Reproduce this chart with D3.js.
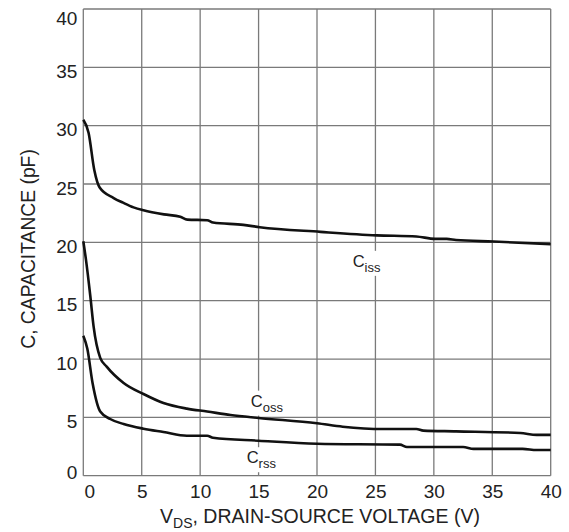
<!DOCTYPE html>
<html>
<head>
<meta charset="utf-8">
<script src="https://cdn.jsdelivr.net/npm/d3@7"></script>
<style>
  body { margin: 0; background: #fff; }
  text { font-family: "Liberation Sans", Arial, sans-serif; fill: #222; }
</style>
</head>
<body>
<svg id="chart" width="569" height="532"></svg>
<script>
// values
const xTicks = [0, 5, 10, 15, 20, 25, 30, 35, 40];
const yTicks = [0, 5, 10, 15, 20, 25, 30, 35, 40];

const vdsIss = [0, 0.45, 0.94, 1.4, 2.6, 3.4, 4.3, 5.15, 6.9, 8.3, 8.9, 10.6, 11.1, 13.7, 15.1, 20.3, 25.1, 28.5, 30.1, 31.1, 31.9, 35.1, 40];
const cIss   = [30.5, 29.4, 26.2, 24.7, 23.8, 23.4, 23.0, 22.75, 22.4, 22.2, 21.95, 21.9, 21.7, 21.5, 21.3, 20.9, 20.6, 20.5, 20.3, 20.3, 20.2, 20.07, 19.85];

const vdsOss = [0, 0.23, 0.6, 0.88, 1.45, 2.0, 3.45, 5.15, 6.86, 8.86, 10.6, 12.6, 15.0, 20, 22.2, 25.7, 28.5, 29.1, 31.9, 37.4, 38.8, 40];
const cOss   = [20.1, 18.5, 15.4, 12.8, 10.1, 9.35, 7.95, 7.0, 6.23, 5.75, 5.5, 5.2, 4.95, 4.5, 4.2, 4.0, 4.0, 3.86, 3.8, 3.66, 3.5, 3.5];

const vdsRss = [0, 0.34, 0.8, 1.45, 2.3, 3.45, 5.15, 6.86, 8.86, 10.6, 11.1, 15, 20, 27.1, 27.7, 32.5, 33.4, 37.6, 38.8, 40];
const cRss   = [12.0, 10.9, 7.9, 5.5, 4.86, 4.43, 4.03, 3.75, 3.43, 3.43, 3.25, 3.0, 2.74, 2.66, 2.46, 2.46, 2.3, 2.3, 2.2, 2.2];

const seriesNames = ["iss", "oss", "rss"];

const svg = d3.select("#chart");
const W = 569, H = 532;
const margin = {top: 9, right: 18.3, bottom: 56.3, left: 83.3};
const w = W - margin.left - margin.right,
      h = H - margin.top - margin.bottom;

const x = d3.scaleLinear().domain([0, 40]).range([0, w]);
const y = d3.scaleLinear().domain([0, 40]).range([h, 0]);

const g = svg.append("g").attr("transform", "translate(" + margin.left + "," + margin.top + ")");

// grid
const gridColor = "#7a7a7a";
g.append("g").selectAll("line.v").data(xTicks).join("line")
  .attr("x1", d => x(d)).attr("x2", d => x(d))
  .attr("y1", 0).attr("y2", h)
  .attr("stroke", gridColor).attr("stroke-width", 1.3);
g.append("g").selectAll("line.h").data(yTicks).join("line")
  .attr("y1", d => y(d)).attr("y2", d => y(d))
  .attr("x1", 0).attr("x2", w)
  .attr("stroke", gridColor).attr("stroke-width", 1.3);

// tick labels
const xAxis = g.append("g").attr("transform", "translate(0," + h + ")")
  .call(d3.axisBottom(x).tickValues(xTicks).tickSize(0).tickPadding(0));
xAxis.select(".domain").remove();
xAxis.selectAll("text")
  .attr("font-size", 19).attr("fill", "#222").attr("dy", "22px")
  .attr("dx", d => d === 0 ? 6 : 0);

const yAxis = g.append("g")
  .call(d3.axisLeft(y).tickValues(yTicks).tickSize(0).tickPadding(6));
yAxis.select(".domain").remove();
yAxis.selectAll("text")
  .attr("font-size", 19).attr("fill", "#222")
  .attr("dy", d => d === 40 ? "15px" : d === 0 ? "3px" : "10px");

// curves
const line = d3.line()
  .x(d => x(d[0])).y(d => y(d[1]))
  .curve(d3.curveMonotoneX);

const series = [
  d3.zip(vdsIss, cIss),
  d3.zip(vdsOss, cOss),
  d3.zip(vdsRss, cRss)
];
g.append("g").selectAll("path").data(series).join("path")
  .attr("d", line)
  .attr("fill", "none")
  .attr("stroke", "#111")
  .attr("stroke-width", 2.6)
  .attr("stroke-linejoin", "round");

// curve labels (white box hides the grid under them)
const labelPos = [[23.05, 17.9], [14.33, 5.92], [13.98, 1.07]];
seriesNames.forEach((name, i) => {
  const lg = g.append("g");
  const bg = lg.append("rect").attr("fill", "#fff");
  const t = lg.append("text")
    .attr("x", x(labelPos[i][0])).attr("y", y(labelPos[i][1]))
    .attr("font-size", 16.5);
  t.append("tspan").text("C");
  t.append("tspan").attr("dy", 5).attr("font-size", 13).text(name);
  const b = t.node().getBBox();
  bg.attr("x", b.x - 1).attr("y", b.y - 1)
    .attr("width", b.width + 2).attr("height", b.height + 2);
});

// axis titles
const xt = svg.append("text")
  .attr("x", margin.left + w / 2 + 3).attr("y", 523)
  .attr("text-anchor", "middle").attr("font-size", 19.5);
xt.append("tspan").text("V");
xt.append("tspan").attr("dy", 5).attr("font-size", 14).text("DS");
xt.append("tspan").attr("dy", -5).text(", DRAIN-SOURCE VOLTAGE (V)");

svg.append("text")
  .attr("transform", "translate(35," + 249 + ") rotate(-90)")
  .attr("text-anchor", "middle").attr("font-size", 19.3)
  .text("C, CAPACITANCE (pF)");
</script>
</body>
</html>
